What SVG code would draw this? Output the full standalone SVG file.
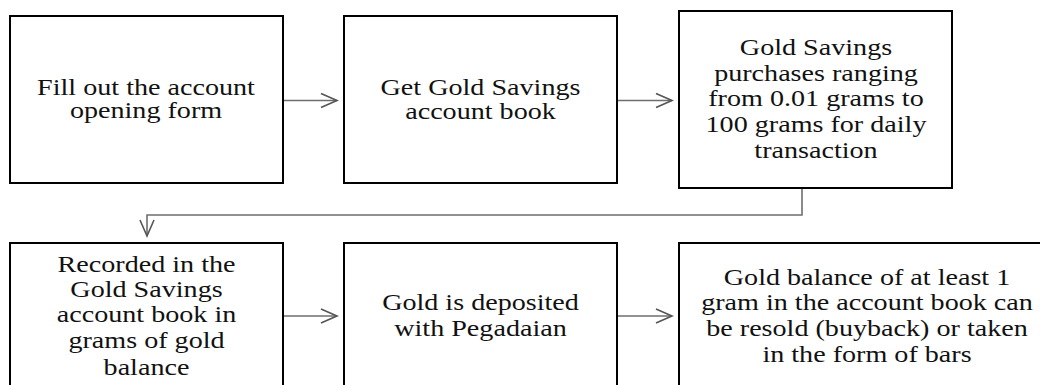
<svg xmlns="http://www.w3.org/2000/svg" width="1040" height="385" viewBox="0 0 1040 385">
<style>
.box{fill:#fff;stroke:#000;stroke-width:2}
.lbl{font-family:"Liberation Serif","Times New Roman",serif;font-size:22.5px;fill:#111;text-anchor:middle}
.conn{fill:none;stroke:#6e6e6e;stroke-width:1.6}
</style>
<defs>
<marker id="open" viewBox="-18 -9 20 18" markerWidth="20" markerHeight="18" refX="0" refY="0" orient="auto" markerUnits="userSpaceOnUse">
<path d="M-16,-7 L0,0 L-16,7" fill="none" stroke="#555" stroke-width="1.6"/>
</marker>
</defs>
<rect width="1040" height="385" fill="#fff"/>
<g id="connectors">
<path class="conn" d="M283,100.5 H337" marker-end="url(#open)"/>
<path class="conn" d="M617,100.5 H672" marker-end="url(#open)"/>
<path class="conn" d="M802,188 V215 H147 V236" marker-end="url(#open)"/>
<path class="conn" d="M283,316 H337" marker-end="url(#open)"/>
<path class="conn" d="M617,316 H672" marker-end="url(#open)"/>
</g>
<g id="node1">
<rect class="box" x="10" y="16" width="273" height="167"/>
<g transform="translate(146,0) scale(1.25,1)">
<text class="lbl"><tspan x="0" y="95">Fill out the account</tspan><tspan x="0" y="118.5">opening form</tspan></text>
</g>
</g>
<g id="node2">
<rect class="box" x="344" y="16" width="273" height="167"/>
<g transform="translate(480.5,0) scale(1.25,1)">
<text class="lbl"><tspan x="0" y="95">Get Gold Savings</tspan><tspan x="0" y="119">account book</tspan></text>
</g>
</g>
<g id="node3">
<rect class="box" x="679" y="11" width="273" height="177"/>
<g transform="translate(816,0) scale(1.25,1)">
<text class="lbl"><tspan x="0" y="55">Gold Savings</tspan><tspan x="0" y="81">purchases ranging</tspan><tspan x="0" y="106.5">from 0.01  grams to</tspan><tspan x="0" y="132">100  grams  for daily</tspan><tspan x="0" y="158">transaction</tspan></text>
</g>
</g>
<g id="node4">
<rect class="box" x="10" y="243" width="273" height="170"/>
<g transform="translate(146.5,0) scale(1.25,1)">
<text class="lbl"><tspan x="0" y="272.5">Recorded in the</tspan><tspan x="0" y="297">Gold Savings</tspan><tspan x="0" y="322.5">account book in</tspan><tspan x="0" y="348">grams of gold</tspan><tspan x="0" y="375">balance</tspan></text>
</g>
</g>
<g id="node5">
<rect class="box" x="344" y="243" width="273" height="170"/>
<g transform="translate(480.5,0) scale(1.25,1)">
<text class="lbl"><tspan x="0" y="310">Gold is deposited</tspan><tspan x="0" y="336">with Pegadaian</tspan></text>
</g>
</g>
<g id="node6">
<rect class="box" x="679" y="243" width="378" height="170"/>
<g transform="translate(867,0) scale(1.25,1)">
<text class="lbl"><tspan x="0" y="285">Gold balance of at least 1</tspan><tspan x="0" y="310">gram in the account book can</tspan><tspan x="0" y="336">be resold (buyback) or taken</tspan><tspan x="0" y="362">in the form of bars</tspan></text>
</g>
</g>
</svg>
